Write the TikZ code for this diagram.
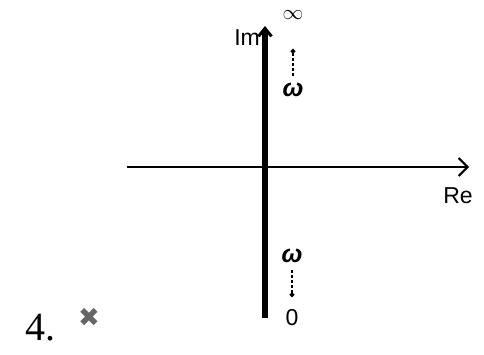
\documentclass[tikz,border=0pt]{standalone}
\usepackage{fontspec}
\setmainfont{Liberation Sans}
\newfontfamily\serifnum{Liberation Serif}
\newfontfamily\djv{DejaVu Sans}
\usetikzlibrary{arrows.meta}
\tikzset{
  lbl/.style={inner sep=0pt, font=\fontsize{23}{23}\selectfont},
  wlbl/.style={inner sep=0pt, font=\bfseries\itshape\fontsize{25}{25}\selectfont},
  dashar/.style={densely dashed, line width=1.8pt, -{Circle[length=4.5pt,width=4.5pt]}},
}
\begin{document}
\begin{tikzpicture}[x=1pt,y=-1pt]
\useasboundingbox (0,0) rectangle (484,355);
% axes
\coordinate (reL) at (127,167);
\coordinate (reR) at (469,167);
\coordinate (imB) at (265,318);
\coordinate (imT) at (265,26);
\draw[line width=2pt, -{Straight Barb[length=9pt,width=18pt,line width=2pt]}] (reL) -- (reR);
\draw[line width=6.5pt, -{Straight Barb[length=8pt,width=13pt,line width=3pt]}] (imB) -- (imT);
% labels
\node[lbl] (re) at (458,196) {Re};
\node[lbl, anchor=east] (im) at (260,38) {Im};
\node[inner sep=0pt, font=\fontsize{20}{20}\selectfont] (inf) at (293,15) {$\infty$};
\node[wlbl] (w1) at (293,90) {ω};
\node[wlbl] (w2) at (292,256) {ω};
\node[lbl] (zero) at (292,318) {0};
\draw[dashar] (w1.north) ++(0,-7) coordinate (a1) -- ++(0,-27) coordinate (a2);
\draw[dashar] (w2.south) ++(0,7) coordinate (b1) -- ++(0,27) coordinate (b2);
\node[inner sep=0pt, font=\serifnum\fontsize{40}{40}\selectfont] (num) at (40,328) {4.};
\node[inner sep=0pt, text=black!60, font=\djv\fontsize{26}{26}\selectfont] (mark) at (89,317) {✖};
\end{tikzpicture}
\end{document}
